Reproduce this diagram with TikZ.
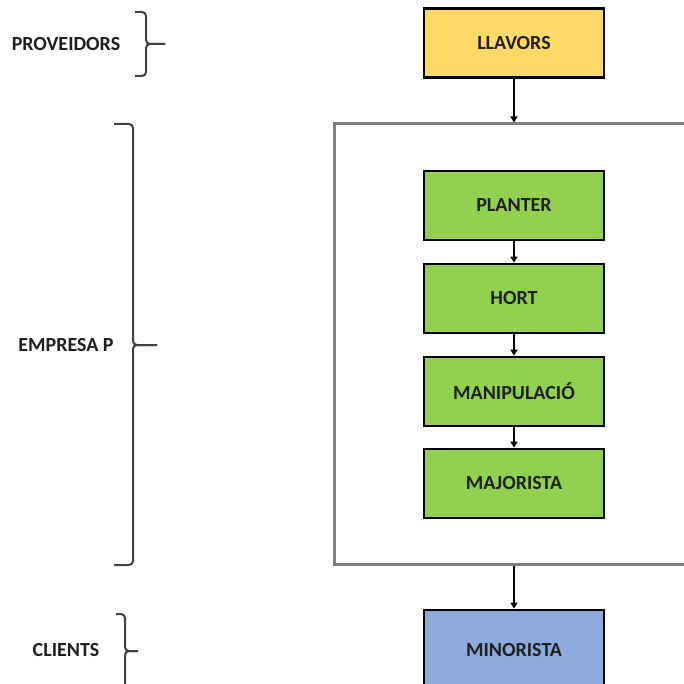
\documentclass[tikz,border=0pt]{standalone}
\usepackage{fontspec}
\setmainfont{Carlito}
\usetikzlibrary{arrows.meta}

\definecolor{seedyellow}{HTML}{FFD966}
\definecolor{farmgreen}{HTML}{92D050}
\definecolor{shopblue}{HTML}{8EA9DB}
\definecolor{framegray}{HTML}{808080}

\begin{document}
\begin{tikzpicture}[x=1pt, y=-1pt,
  every node/.style = {font=\fontsize{20}{24}\selectfont\bfseries, text=black!88},
  stage/.style = {draw=black, line width=2.8pt, minimum width=180pt,
                  minimum height=69pt, inner sep=0pt},
  flow/.style = {-{Triangle[width=7pt,length=6pt]}, line width=1.4pt},
  bracket/.style = {draw=black!75, line width=2pt, rounded corners=4pt}]
  \useasboundingbox (0,0) rectangle (684,684);
  \clip (0,0) rectangle (684,684);

  % the company frame
  \node (empresa) [draw=framegray, line width=3pt, minimum width=366pt,
                   minimum height=440pt, inner sep=0pt] at (517,344) {};

  % chain of stages
  \node (llavors)   [stage, fill=seedyellow] at (514,43)    {LLAVORS};
  \node (planter)   [stage, fill=farmgreen]  at (514,205.5) {PLANTER};
  \node (hort)      [stage, fill=farmgreen]  at (514,298.5) {HORT};
  \node (manip)     [stage, fill=farmgreen]  at (514,391.5) {MANIPULACIÓ};
  \node (majorista) [stage, fill=farmgreen]  at (514,483.5) {MAJORISTA};
  \node (minorista) [stage, fill=shopblue, minimum height=80pt] at (514,650) {MINORISTA};

  \draw[flow] (llavors) -- (llavors |- empresa.north);
  \draw[flow] (planter) -- (hort);
  \draw[flow] (hort) -- (manip);
  \draw[flow] (manip) -- (majorista);
  \draw[flow] (minorista |- empresa.south) -- (minorista);

  % left side labels
  \node (provlbl) at (66,44)  {PROVEIDORS};
  \node (emplbl)  at (66,345) {EMPRESA P};
  \node (clilbl)  at (66,650) {CLIENTS};

  \draw[bracket] (135,12) -- (146,12) -- (146,44) -- (165,44);
  \draw[bracket] (135,76) -- (146,76) -- (146,44) -- (165,44);
  \draw[bracket] (114,124) -- (133,124) -- (133,345) -- (157,345);
  \draw[bracket] (114,565) -- (133,565) -- (133,345) -- (157,345);
  \draw[bracket] (116,614) -- (125,614) -- (125,651) -- (138,651);
  \draw[bracket] (116,690) -- (125,690) -- (125,651) -- (138,651);
\end{tikzpicture}
\end{document}
